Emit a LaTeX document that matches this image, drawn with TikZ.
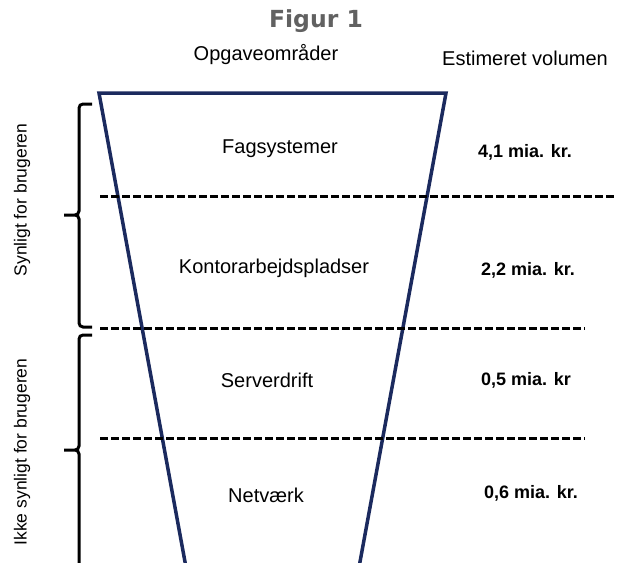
\documentclass[tikz,border=0pt]{standalone}
\usepackage{fontspec}
\setmainfont{Liberation Sans}
\newfontfamily\titlefont{DejaVu Sans}
\definecolor{funnelblue}{HTML}{1B2A5E}
\definecolor{titlegray}{HTML}{616161}
\tikzset{
  area/.style={font=\fontsize{20}{24}\selectfont},
  volume/.style={font=\fontsize{18}{22}\selectfont\bfseries},
  sidetext/.style={font=\fontsize{17.5}{20}\selectfont,rotate=90},
  divider/.style={line width=3pt,dash pattern=on 7.5pt off 3.5pt},
  bracket/.style={line width=3pt,rounded corners=4pt},
  funnel/.style={funnelblue,line width=3.5pt},
}
\begin{document}
\begin{tikzpicture}[x=1pt,y=-1pt]
    \clip(0,0)rectangle(617,562);
    \node[titlegray,font=\titlefont\bfseries\fontsize{23.5}{28}\selectfont](title) at (316,21){Figur 1};
    \node[area](hdrareas) at (266,55){Opgaveområder};
    \node[area](hdrvolume) at (525,58){Estimeret volumen};
    % the funnel
    \draw[funnel](192,600)--(99,93)--(446,93)--(353,600);
    \draw[divider](100,196)--(617,196);
    \draw[divider](100,328)--(585,328);
    \draw[divider](100,438)--(585,438);
    \node[area](fag) at (280,149){Fagsystemer};
    \node[area](kontor) at (274,268){Kontorarbejdspladser};
    \node[area](server) at (267,380){Serverdrift};
    \node[area](net) at (266,495){Netværk};
    \node[volume](volfag) at (525,152){4,1 mia. kr.};
    \node[volume](volkontor) at (528,270){2,2 mia. kr.};
    \node[volume](volserver) at (526,380){0,5 mia. kr};
    \node[volume](volnet) at (531,493){0,6 mia. kr.};
    % braces on the left
    \draw[bracket](92,104)--(79,104)--(79,215)--(64,215) (92,327)--(79,327)--(79,215)--(64,215);
    \draw[bracket](92,335)--(79,335)--(79,450)--(64,450) (79,600)--(79,450)--(64,450);
    \node[sidetext](visible) at (22,200){Synligt for brugeren};
    \node[sidetext](hidden) at (22,452){Ikke synligt for brugeren};
\end{tikzpicture}
\end{document}
